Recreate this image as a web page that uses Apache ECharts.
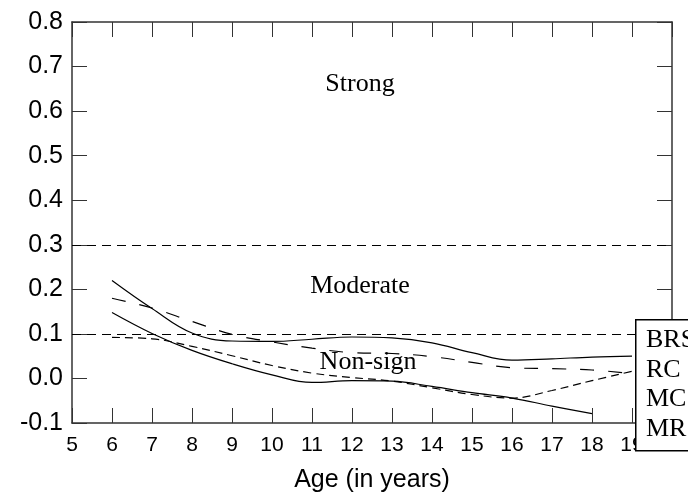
<!DOCTYPE html>
<html>
<head>
<meta charset="utf-8">
<script src="https://cdn.jsdelivr.net/npm/echarts@6/dist/echarts.min.js"></script>
<style>
html,body{margin:0;padding:0;background:#fff}
#chart{width:688px;height:496px}
</style>
</head>
<body>
<div id="chart"></div>
<script>
// ages (x) and the four smoothed curves
var ages = [6, 7, 8, 9, 10, 11, 12, 13, 14, 15, 16, 17, 18, 19];
var brs = [0.220, 0.157, 0.102, 0.084, 0.083, 0.088, 0.093, 0.091, 0.080, 0.058, 0.041, 0.044, 0.048, 0.050];
var rc  = [0.180, 0.158, 0.128, 0.099, 0.082, 0.068, 0.058, 0.056, 0.049, 0.036, 0.024, 0.022, 0.019, 0.011];
var mc  = [0.092, 0.089, 0.072, 0.051, 0.029, 0.012, 0.002, -0.006, -0.021, -0.036, -0.044, -0.027, -0.005, 0.016];
var mr  = [0.148, 0.101, 0.063, 0.033, 0.008, -0.009, -0.005, -0.006, -0.018, -0.032, -0.044, -0.062, -0.079, null];

var cutoffs = [0.3, 0.1];
var zoneNames = ['Strong', 'Moderate', 'Non-sign'];
var zoneX = [12.2, 12.2, 12.4];
var zoneY = [0.66, 0.208, 0.037];

var seriesNames = ['BRS', 'RC', 'MC', 'MR'];

function pairs(vals) {
  return ages.map(function (a, i) { return [a, vals[i]]; });
}

function curve(name, vals, dash) {
  return {
    name: name,
    type: 'line',
    data: pairs(vals),
    smooth: 0.4,
    showSymbol: false,
    symbol: 'none',
    connectNulls: false,
    lineStyle: { color: '#000', width: 1.2, type: dash },
    itemStyle: { color: '#000' }
  };
}

var sBrs = curve('BRS', brs, 'solid');
sBrs.markLine = {
  silent: true,
  symbol: ['none', 'none'],
  label: { show: false },
  lineStyle: { color: '#000', width: 1.2, type: [9, 6] },
  data: cutoffs.map(function (v) { return { yAxis: v }; })
};
sBrs.markPoint = {
  silent: true,
  symbol: 'circle',
  symbolSize: 1,
  itemStyle: { color: 'rgba(0,0,0,0)' },
  label: {
    show: true,
    position: 'inside',
    formatter: '{b}',
    color: '#000',
    fontFamily: 'Liberation Serif',
    fontSize: 26
  },
  data: zoneNames.map(function (n, i) { return { name: n, coord: [zoneX[i], zoneY[i]] }; })
};

// legend box, partly cut off by the right edge as in the source
var legendItems = [{
  type: 'rect',
  left: 635, top: 319,
  shape: { width: 120, height: 131 },
  style: { fill: '#fff', stroke: '#000', lineWidth: 1.5 },
  z: 100
}];
seriesNames.forEach(function (n, i) {
  legendItems.push({
    type: 'text',
    left: 646,
    top: 327 + i * 29.7,
    style: { text: n, fill: '#000', font: '26px "Liberation Serif"' },
    z: 101
  });
});

var axisCol = '#333';
var tickFont = 'Liberation Sans';

var option = {
  animation: false,
  backgroundColor: '#fff',
  grid: { left: 72, right: 16, top: 22, bottom: 73, outerBoundsMode: 'none', containLabel: false },
  graphic: legendItems,
  xAxis: [{
    type: 'value',
    min: 5, max: 20, interval: 1,
    name: 'Age (in years)',
    nameLocation: 'middle',
    nameGap: 45,
    nameTextStyle: { fontFamily: tickFont, fontSize: 25, color: '#000' },
    axisLine: { show: true, onZero: false, lineStyle: { color: axisCol, width: 1.5 } },
    axisTick: { show: true, inside: true, length: 15, lineStyle: { color: axisCol, width: 1 } },
    axisLabel: { fontFamily: tickFont, fontSize: 21, color: '#000', margin: 12 },
    splitLine: { show: false }
  }, {
    type: 'value',
    position: 'top',
    min: 5, max: 20, interval: 1,
    axisLine: { show: true, onZero: false, lineStyle: { color: axisCol, width: 1.5 } },
    axisTick: { show: true, inside: true, length: 15, lineStyle: { color: axisCol, width: 1 } },
    axisLabel: { show: false },
    splitLine: { show: false }
  }],
  yAxis: [{
    type: 'value',
    min: -0.1, max: 0.8, interval: 0.1,
    axisLine: { show: true, onZero: false, lineStyle: { color: axisCol, width: 1.5 } },
    axisTick: { show: true, inside: true, length: 15, lineStyle: { color: axisCol, width: 1 } },
    axisLabel: {
      fontFamily: tickFont, fontSize: 25, color: '#000', margin: 9,
      formatter: function (v) { return v.toFixed(1); }
    },
    splitLine: { show: false }
  }, {
    type: 'value',
    position: 'right',
    min: -0.1, max: 0.8, interval: 0.1,
    axisLine: { show: true, onZero: false, lineStyle: { color: axisCol, width: 1.5 } },
    axisTick: { show: true, inside: true, length: 15, lineStyle: { color: axisCol, width: 1 } },
    axisLabel: { show: false },
    splitLine: { show: false }
  }],
  series: [
    sBrs,
    curve('RC', rc, [14, 14]),
    curve('MC', mc, [8, 5]),
    curve('MR', mr, 'solid')
  ]
};

var myChart = echarts.init(document.getElementById('chart'));
myChart.setOption(option);
window.addEventListener('resize', function () { myChart.resize(); });
</script>
</body>
</html>
